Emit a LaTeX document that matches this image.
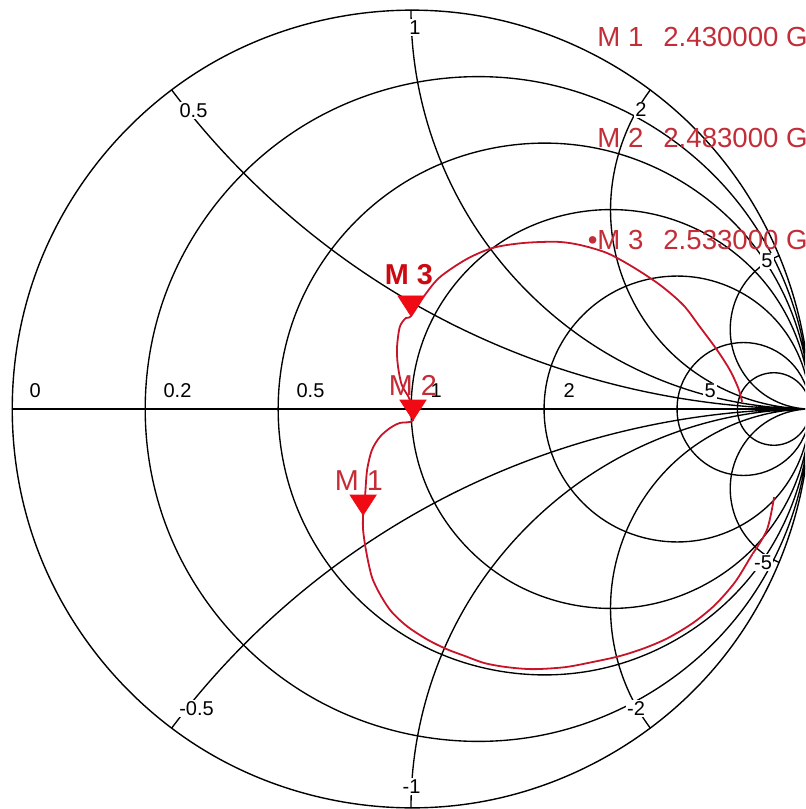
\documentclass[border=0pt]{standalone}
\usepackage{pgfplots}
\pgfplotsset{compat=1.18}
\usepgfplotslibrary{smithchart}
\usepackage{fontspec}
\setmainfont{Liberation Sans}
\definecolor{trace}{RGB}{200,20,40}
\definecolor{legred}{RGB}{195,45,55}
\definecolor{mkred}{RGB}{240,10,20}

\begin{document}
\begin{tikzpicture}
\begin{scope}
\clip (-205.5pt,-200pt) rectangle (197pt,204.5pt);
\begin{smithchart}[
  at={(0pt,0pt)}, anchor=center, name=sc,
  scale only axis, width=399pt,
  xtick={0.2,0.5,1,2,5,10},
  ytick={-5,-2,-1,-0.5,0,0.5,1,2,5},
  xticklabel={\relax}, yticklabel={\relax},
  show origin=false,
  show origin code/.code={},
  major tick length=0pt,
  grid=major,
  major grid style={black, line width=0.68pt},
  axis line style={black, line width=0.7pt},
]
\addplot[is smithchart cs, trace, line width=0.9pt, no marks, smooth, tension=0.5] coordinates {
(0.910,-0.221) (0.892,-0.303) (0.850,-0.373) (0.812,-0.434) (0.762,-0.491)
(0.707,-0.536) (0.644,-0.574) (0.586,-0.599) (0.524,-0.619) (0.456,-0.634)
(0.386,-0.647) (0.306,-0.652) (0.241,-0.647) (0.185,-0.637) (0.135,-0.619)
(0.090,-0.602) (0.043,-0.579) (-0.008,-0.546) (-0.048,-0.509) (-0.075,-0.469)
(-0.098,-0.421) (-0.113,-0.353) (-0.120,-0.303) (-0.120,-0.266)
(-0.115,-0.216) (-0.110,-0.153) (-0.098,-0.103) (-0.078,-0.070) (-0.053,-0.048)
(-0.028,-0.035) (0.005,-0.028) (-0.003,0.023) (-0.023,0.060) (-0.033,0.110)
(-0.035,0.155) (-0.028,0.206) (-0.013,0.228) (0.000,0.233) (0.035,0.286)
(0.073,0.331) (0.140,0.376) (0.206,0.404) (0.281,0.416) (0.366,0.419)
(0.424,0.411) (0.491,0.391) (0.556,0.356) (0.624,0.311) (0.682,0.261)
(0.724,0.206) (0.767,0.148) (0.799,0.098) (0.820,0.053) (0.830,0.018)
};
\addplot[is smithchart cs, only marks, mark=triangle*, mark size=6.7pt,
  mark options={yshift=6.7pt, xscale=1.12, rotate=180, fill=mkred, draw=mkred}]
  coordinates {(-0.120,-0.266) (0.005,-0.028) (0.000,0.233)};
\end{smithchart}
\begin{scope}[x=0.5pt, y=-0.5pt, shift={(-411,-409)}]
\tikzset{gl/.style={fill=white, inner sep=0.6pt, font=\fontsize{10}{12}\selectfont}}
% resistance labels
\node[gl, anchor=base west] at (28,398) {0};
\node[gl, anchor=base west] at (162,398) {0.2};
\node[gl, anchor=base west] at (295,398) {0.5};
\node[gl, anchor=base west] at (429,398) {1};
\node[gl, anchor=base west] at (562,398) {2};
\node[gl, anchor=base west] at (703,398) {5};
% reactance labels
\node[gl] at (193.5,110.5) {0.5};
\node[gl] at (415,27.5) {1};
\node[gl] at (641,110) {2};
\node[gl] at (767,261) {5};
\node[gl] at (196.5,708.5) {-0.5};
\node[gl] at (411.5,786.5) {-1};
\node[gl] at (636,708.5) {-2};
\node[gl] at (763,562.5) {-5};
% marker labels
\tikzset{ml/.style={anchor=base, inner sep=0pt, text=legred, font=\fontsize{14.4}{16}\selectfont}}
\node[ml] at (359,490) {M 1};
\node[ml] at (413,395) {M 2};
\node[ml, font=\fontsize{14.4}{16}\selectfont\bfseries, text=mkred!85!black] at (409,285) {M 3};
% marker readout
\tikzset{lg/.style={anchor=base west, inner sep=0pt, text=legred, font=\fontsize{13.8}{16}\selectfont}}
\node[lg] at (597,47) {M 1};
\node[lg] at (663,47) {2.430000 G};
\node[lg] at (597,148) {M 2};
\node[lg] at (663,148) {2.483000 G};
\node[lg] at (597,250) {M 3};
\node[lg] at (663,250) {2.533000 G};
\node[lg, anchor=base east] at (598,250) {•};
\end{scope}
\end{scope}
\pgfresetboundingbox
\path[use as bounding box] (-205.5pt,-200pt) rectangle (197pt,204.5pt);
\end{tikzpicture}
\end{document}
